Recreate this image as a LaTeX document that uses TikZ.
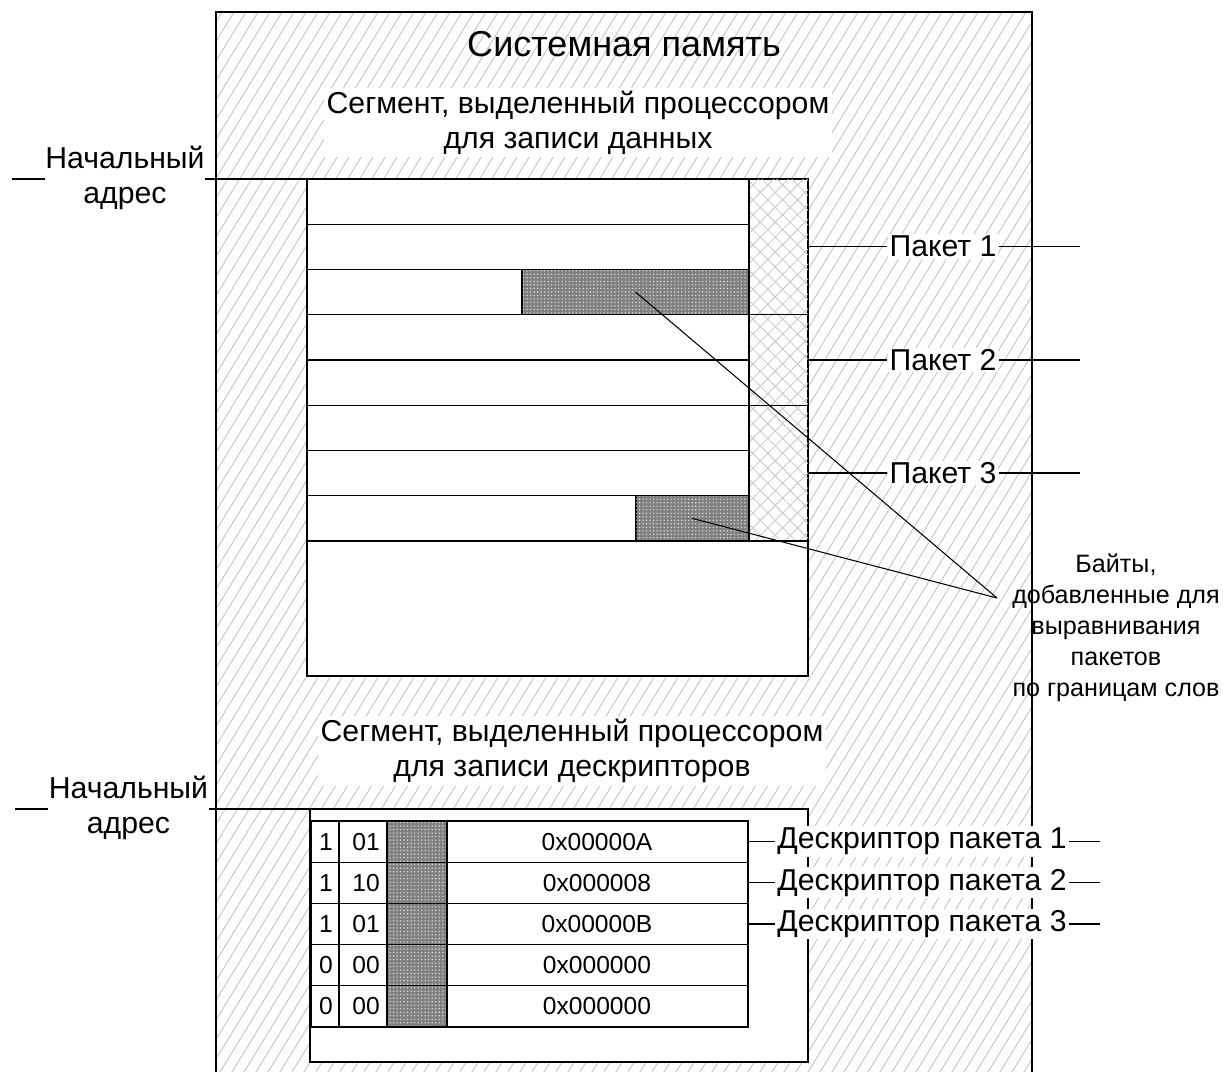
\documentclass[tikz,border=0pt]{standalone}
\usepackage{fontspec}
\setmainfont{Liberation Sans}
\usetikzlibrary{patterns,patterns.meta}

\tikzset{
  hatchline/.style={gray!55,line width=0.4pt},
  padhatch/.style={pattern={Hatch[angle=45,distance=6pt,line width=0.45pt]},pattern color=gray!45},
  bytefill/.style={draw,fill=black!50,postaction={pattern={Dots[distance=2pt,radius=0.45pt]},pattern color=white!75!gray}},
  lbl/.style={fill=white,inner sep=1pt,font=\fontsize{17.2}{20}\selectfont},
  seg/.style={fill=white,align=center,inner sep=1.5pt,font=\fontsize{17.2}{20}\selectfont},
  cell/.style={font=\fontsize{14}{16}\selectfont},
}

\begin{document}
\begin{tikzpicture}[x=0.02cm,y=-0.02cm,line width=0.6pt]
  \useasboundingbox (0,0) rectangle (1223,1072);
  \fill[white] (0,0) rectangle (1223,1072);
  \begin{scope}
    \clip (216,12) rectangle (1032,1072);
    \foreach \k in {-440,-428,...,1040} \draw[hatchline] (\k,1072) -- ++(650,-1060);
  \end{scope}
  \draw (216,1072) |- (1032,12) -- (1032,1072);
  \node (title) at (624,44) {\fontsize{20.5}{24}\selectfont Системная память};

  % data segment
  \node[seg] (segdata) at (578,122.5) {Сегмент, выделенный процессором\\для записи данных};
  \draw[fill=white] (307,179) rectangle (808,676);
  \coordinate (dtl) at (307,179);
  \fill[padhatch] (749,179) rectangle (808,541);
  \draw[bytefill] (522,269.5) rectangle (749,314.75);
  \draw[bytefill] (636,495.75) rectangle (749,541);
  \coordinate (pad1) at (635.5,292);
  \coordinate (pad2) at (692.5,518.4);
  \foreach \i in {1,...,8} \draw (307,{179+45.25*\i}) -- (749,{179+45.25*\i});
  \foreach \yy in {314.75,405.25,541} \draw (749,\yy) -- (808,\yy);
  \draw (749,179) -- (749,541);
  \foreach \n/\yy in {1/246.5,2/360,3/473}{
    \coordinate (pka\n) at (808,\yy);
    \coordinate (pkb\n) at (1080,\yy);
    \node[lbl] (pk\n) at (943,\yy) {Пакет \n};
    \draw (pka\n) -- (pk\n.west);
    \draw (pk\n.east) -- (pkb\n);
  }

  \coordinate (sa1) at (12,179);
  \node[seg,inner sep=0pt] (start1) at (125,178) {Начальный\\адрес};
  \draw (sa1) -- (sa1 -| start1.west);
  \draw (sa1 -| start1.east) -- (dtl);

  \coordinate (tip) at (997,598);
  \draw (pad1) -- (tip);
  \draw (pad2) -- (tip);
  \node[align=center,font=\fontsize{14.3}{17.6}\selectfont] (pads) at (1116,628)
    {Байты,\\добавленные для\\выравнивания\\пакетов\\по границам слов};

  % descriptor segment
  \node[seg] (segdesc) at (572,751) {Сегмент, выделенный процессором\\для записи дескрипторов};
  \draw[fill=white] (310,809) rectangle (808,1062);
  \coordinate (ktl) at (310,809);
  \draw[bytefill] (387,821) rectangle (447,1027);
  \draw (311,821) rectangle (748,1027);
  \foreach \xx in {339,387,447} \draw (\xx,821) -- (\xx,1027);
  \foreach \i in {1,...,4} \draw (311,{821+41.2*\i}) -- (748,{821+41.2*\i});
  \foreach \r/\v/\m/\a in {0/1/01/0x00000A,1/1/10/0x000008,2/1/01/0x00000B,3/0/00/0x000000,4/0/00/0x000000}{
    \node[cell] (v\r) at (326,{841.6+41.2*\r}) {\v};
    \node[cell] (m\r) at (366,{841.6+41.2*\r}) {\m};
    \node[cell] (a\r) at (597,{841.6+41.2*\r}) {\a};
  }
  \foreach \n/\r in {1/0,2/1,3/2}{
    \coordinate (dsa\n) at (748,{841.6+41.2*\r});
    \coordinate (dsb\n) at (1100,{841.6+41.2*\r});
    \node[lbl] (ds\n) at (922,{841.6+41.2*\r}) {Дескриптор пакета \n};
    \draw (dsa\n) -- (ds\n.west);
    \draw (ds\n.east) -- (dsb\n);
  }

  \coordinate (sa2) at (15,809);
  \node[seg,inner sep=0pt] (start2) at (128.5,808) {Начальный\\адрес};
  \draw (sa2) -- (sa2 -| start2.west);
  \draw (sa2 -| start2.east) -- (ktl);
\end{tikzpicture}
\end{document}
